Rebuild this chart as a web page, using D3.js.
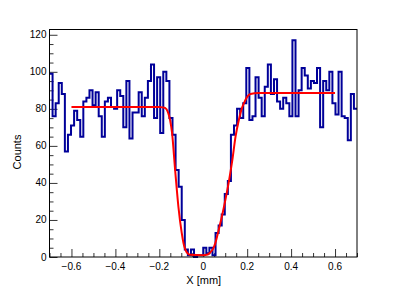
<!DOCTYPE html>
<html>
<head>
<meta charset="utf-8">
<script src="https://cdn.jsdelivr.net/npm/d3@7"></script>
<style>
  body { margin: 0; background: #fff; }
  svg { display: block; }
  text { font-family: "Liberation Sans", Arial, sans-serif; }
</style>
</head>
<body>
<svg></svg>
<script>
// histogram: 100 bins between -0.7 and 0.7 mm
var xMin = -0.7, xMax = 0.7
var nBins = 100
var counts = [
  99, 76, 83, 94, 88, 57, 66, 71, 79, 74,
  65, 84, 86, 90, 82, 89, 76, 65, 84, 86,
  81, 80, 90, 87, 70, 95, 64, 78, 78, 89,
  76, 86, 95, 104, 75, 97, 67, 100, 95, 75,
  66, 47, 38, 20, 4, 1, 4, 0, 1, 1,
  5, 2, 5, 1, 13, 17, 23, 34, 41, 66,
  71, 80, 75, 83, 102, 74, 76, 97, 86, 76,
  92, 104, 88, 96, 84, 80, 86, 83, 76, 117,
  76, 90, 102, 98, 91, 95, 94, 102, 70, 95,
  90, 100, 83, 77, 100, 76, 75, 63, 88, 80
]

// fit curve, points
var fitX = [-0.6, -0.3, -0.2, -0.185, -0.174, -0.16, -0.151, -0.142, -0.128, -0.113,
            -0.098, -0.09, -0.075, -0.06, 0, 0.02, 0.032, 0.045, 0.055, 0.07,
            0.085, 0.101, 0.117, 0.132, 0.147, 0.162, 0.175, 0.185, 0.2, 0.215,
            0.25, 0.6]
var fitY = [81, 81, 81, 80.8, 80.5, 78, 74, 67, 47, 27,
            13, 7.5, 2.5, 1.2, 1, 1.3, 2.5, 4.5, 7.5, 14.5,
            22, 31, 41, 52, 65, 74, 80, 83, 86.5, 88,
            88.5, 88.5]

var xTicks = [-0.6, -0.4, -0.2, 0, 0.2, 0.4, 0.6]
var yTicks = [0, 20, 40, 60, 80, 100, 120]

var w = 407, h = 293
var frame = {left: 49.5, right: 357, top: 29.5, bottom: 257}

function dibujar() {
  var svg = d3.select('svg').attr('width', w).attr('height', h)

  var binW = (xMax - xMin) / nBins
  var yMax = 1.05 * d3.max(counts)   // como hace ROOT

  var x = d3.scaleLinear().domain([xMin, xMax]).range([frame.left, frame.right])
  var y = d3.scaleLinear().domain([0, yMax]).range([frame.bottom, frame.top])

  // ejes con ticks hacia dentro
  var xAxis = d3.axisBottom(x).tickValues(d3.range(-0.7, 0.7001, 0.05).map(function(v){ return +v.toFixed(2) }))
      .tickSize(-4).tickFormat('')
  var gx = svg.append('g').attr('transform', 'translate(0,' + frame.bottom + ')').call(xAxis)
  gx.selectAll('.tick line').filter(function(d){ return xTicks.indexOf(d) >= 0 }).attr('y2', -8)

  var yAxis = d3.axisLeft(y).tickValues(d3.range(0, 121, 5)).tickSize(-4).tickFormat('')
  var gy = svg.append('g').attr('transform', 'translate(' + frame.left + ',0)').call(yAxis)
  gy.selectAll('.tick line').filter(function(d){ return d % 20 === 0 }).attr('x2', 8)

  svg.selectAll('.domain').remove()
  svg.selectAll('.tick line').attr('stroke', '#000').attr('stroke-width', 0.8)

  // etiquetas
  svg.append('g').selectAll('text').data(xTicks).enter().append('text')
    .attr('x', function(d){ return x(d) })
    .attr('y', frame.bottom + 13)
    .attr('text-anchor', 'middle')
    .attr('font-size', 10)
    .text(function(d){ return d === 0 ? '0' : d3.format('.1f')(d) })

  svg.append('g').selectAll('text').data(yTicks).enter().append('text')
    .attr('x', frame.left - 3)
    .attr('y', function(d){ return y(d) + 3.5 })
    .attr('text-anchor', 'end')
    .attr('font-size', 10)
    .text(function(d){ return d })

  svg.append('text').attr('x', (frame.left + frame.right) / 2 + 0.5).attr('y', 284)
    .attr('text-anchor', 'middle').attr('font-size', 11).text('X [mm]')

  svg.append('text').attr('transform', 'translate(21,152) rotate(-90)')
    .attr('text-anchor', 'middle').attr('font-size', 11).text('Counts')

  // histograma en escalones
  var puntos = counts.map(function(c, i){ return [xMin + i * binW, c] })
  puntos.push([xMax, counts[counts.length - 1]])
  var linea = d3.line()
    .x(function(d){ return x(d[0]) })
    .y(function(d){ return y(d[1]) })
    .curve(d3.curveStepAfter)
  svg.append('path').datum(puntos)
    .attr('d', linea)
    .attr('fill', 'none')
    .attr('stroke', '#000099')
    .attr('stroke-width', 2)

  // ajuste
  var fit = fitX.map(function(v, i){ return [v, fitY[i]] })
  svg.append('path').datum(fit)
    .attr('d', d3.line().x(function(d){ return x(d[0]) }).y(function(d){ return y(d[1]) }).curve(d3.curveMonotoneX))
    .attr('fill', 'none')
    .attr('stroke', '#ff0000')
    .attr('stroke-width', 2)

  // marco
  svg.append('rect')
    .attr('x', frame.left).attr('y', frame.top)
    .attr('width', frame.right - frame.left).attr('height', frame.bottom - frame.top)
    .attr('fill', 'none').attr('stroke', '#000').attr('stroke-width', 1)
}

dibujar()
</script>
</body>
</html>
